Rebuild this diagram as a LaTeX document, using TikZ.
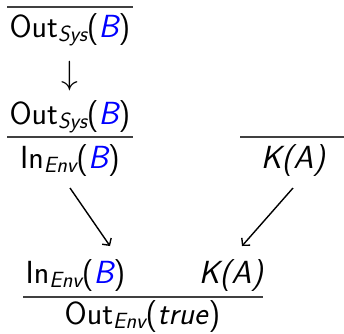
\documentclass[tikz,border=0pt]{standalone}
\usepackage{xcolor}
\usepackage{graphicx}
\usetikzlibrary{arrows.meta}
\newcommand{\sbs}[1]{\raisebox{-4.5pt}{\fontsize{22}{22}\selectfont\itshape #1}}
\newcommand{\bl}{\textcolor{blue}{\itshape B}}
\begin{document}
\begin{tikzpicture}[x=1pt,y=-1pt,
  font=\sffamily\fontsize{32}{38}\selectfont,
  txt/.style={inner sep=0pt, anchor=base},
  rule/.style={line width=1.4pt, black!75},
  conn/.style={line width=1.4pt, -{Straight Barb[length=5pt,width=11pt]}}]
\useasboundingbox (0,0) rectangle (344,333);
% top
\draw[rule] (7,7) -- (133,7);
\node[txt] (o1) at (70,37) {Out\sbs{Sys}(\bl)};
\node[inner sep=0pt] (d1) at (70,76) {\scalebox{1.35}{$\downarrow$}};
\node[txt] (o2) at (70,124) {Out\sbs{Sys}(\bl)};
\draw[rule] (7,137) -- (133,137);
\node[txt] (i1) at (70,168) {In\sbs{Env}(\bl)};
% right
\draw[rule] (240,137) -- (344,137);
\node[txt] (k1) at (293,168) {\itshape K(A)};
% arrows
\coordinate (a1s) at (70,188);
\coordinate (a1e) at (110,246);
\coordinate (a2s) at (293,188);
\coordinate (a2e) at (242,246);
\draw[conn] (a1s) -- (a1e);
\draw[conn] (a2s) -- (a2e);
% bottom
\node[txt] (i2) at (75.5,283) {In\sbs{Env}(\bl)};
\node[txt] (k2) at (231,283) {\itshape K(A)};
\draw[rule] (23,297) -- (263,297);
\node[txt] (o3) at (142.5,324) {Out\sbs{Env}(\textit{true})};
\end{tikzpicture}
\end{document}
